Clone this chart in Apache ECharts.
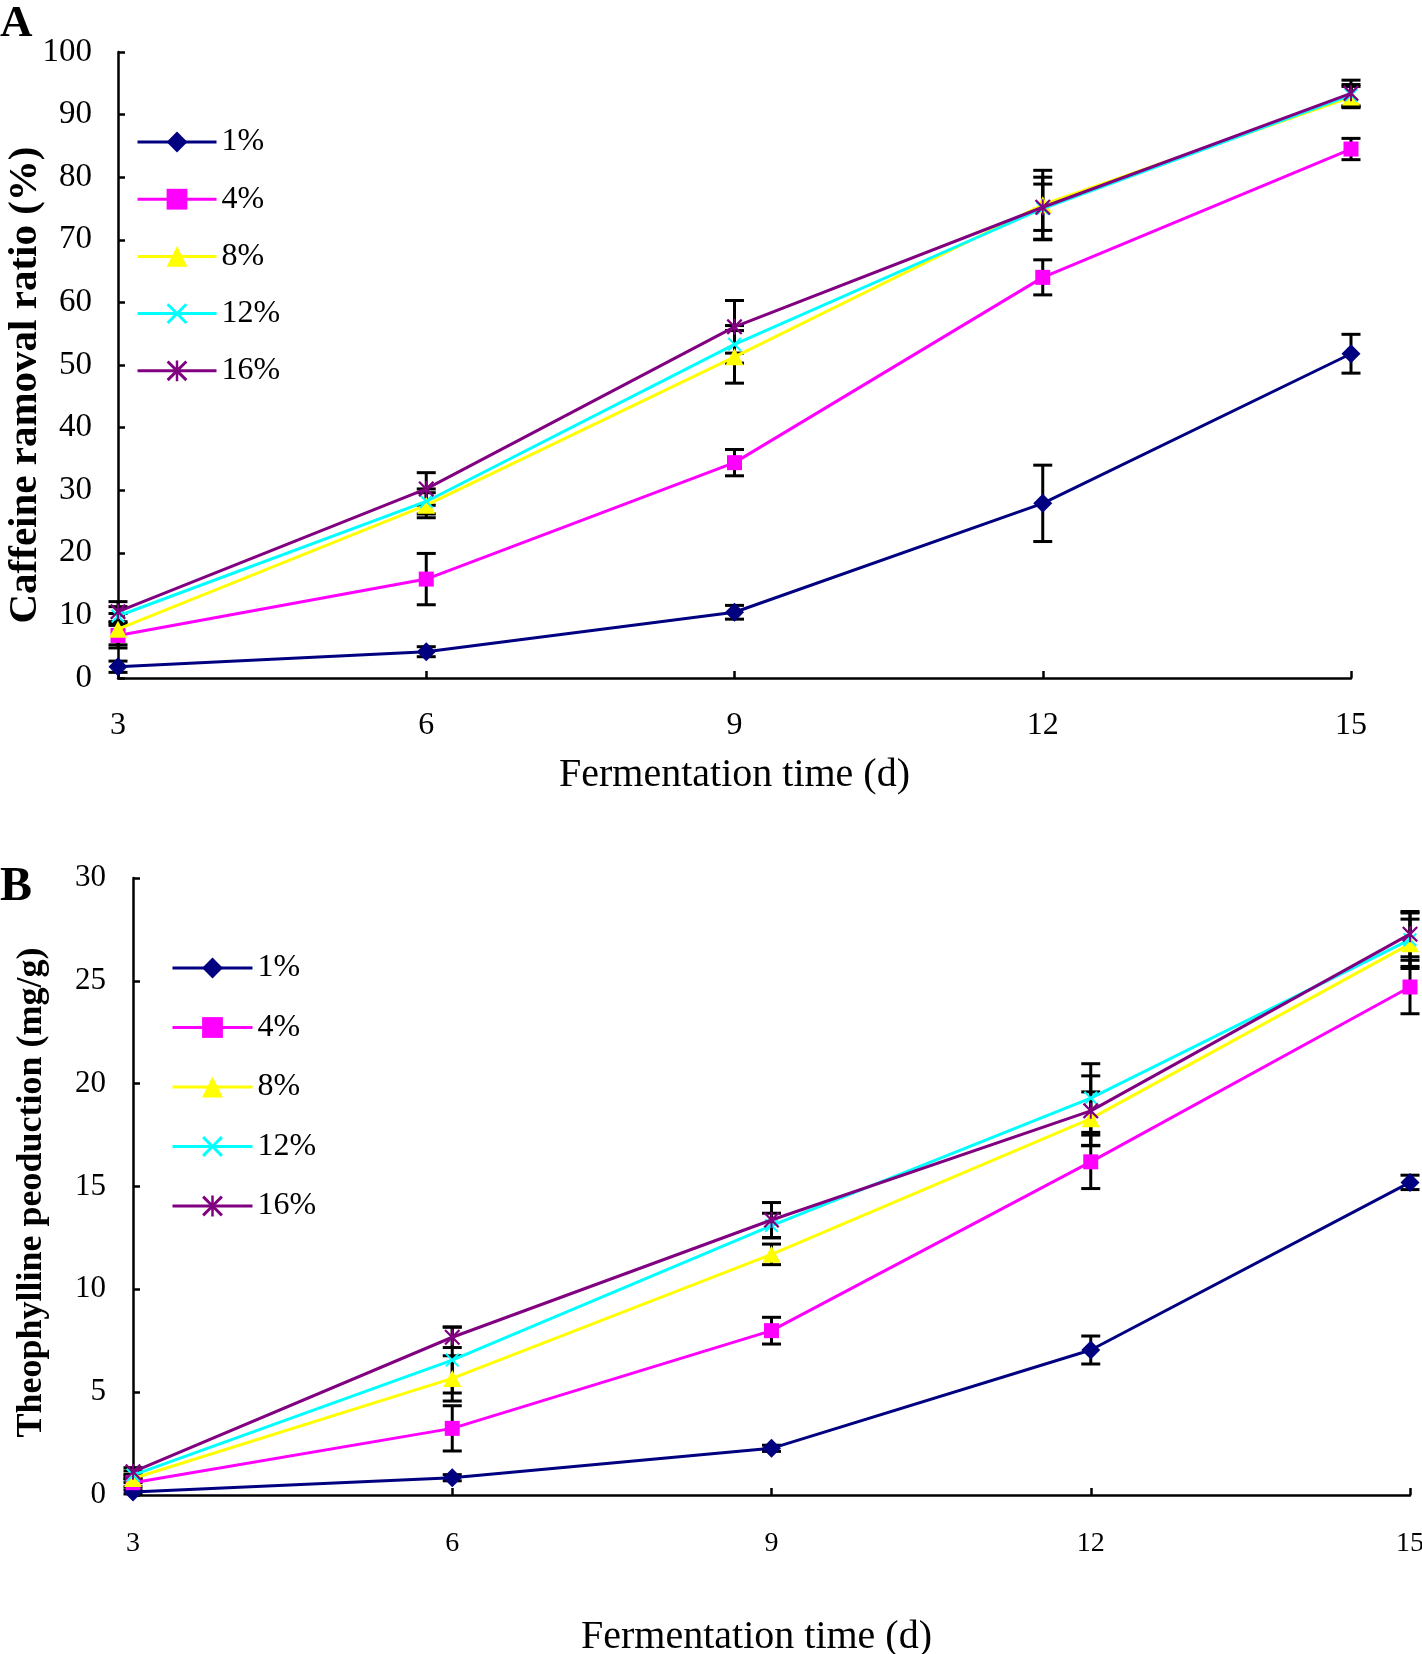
<!DOCTYPE html>
<html>
<head>
<meta charset="utf-8">
<script src="https://cdn.jsdelivr.net/npm/echarts@6/dist/echarts.min.js"></script>
<style>
html,body{margin:0;padding:0;background:#fff;}
#chart{width:1422px;height:1654px;}
</style>
</head>
<body>
<div id="chart"></div>
<script>
// ---- Data ----
const days = [3, 6, 9, 12, 15];
const seriesNames = ['1%', '4%', '8%', '12%', '16%'];
const xTicks = [3, 6, 9, 12, 15];

// Panel A: Caffeine ramoval ratio (%)
const caffeine1  = [1.8, 4.2, 10.5, 27.9, 51.8];
const caffeine4  = [6.8, 15.8, 34.4, 64.0, 84.5];
const caffeine8  = [7.8, 27.6, 51.3, 75.6, 92.8];
const caffeine12 = [9.9, 28.2, 53.3, 75.0, 93.1];
const caffeine16 = [10.6, 30.2, 56.1, 75.2, 93.4];
const caffeineErr1  = [0.9, 0.8, 1.1, 6.1, 3.1];
const caffeineErr4  = [2.0, 4.1, 2.1, 2.8, 1.7];
const caffeineErr8  = [2.5, 2.0, 4.2, 5.5, 1.7];
const caffeineErr12 = [1.5, 2.0, 3.0, 5.0, 1.7];
const caffeineErr16 = [1.6, 2.6, 4.2, 3.7, 2.1];

// Panel B: Theophylline peoduction (mg/g)
const theo1  = [0.15, 0.84, 2.27, 7.05, 15.2];
const theo4  = [0.6, 3.24, 7.99, 16.2, 24.7];
const theo8  = [0.8, 5.67, 11.7, 18.3, 26.8];
const theo12 = [0.97, 6.56, 13.1, 19.3, 27.0];
const theo16 = [1.13, 7.67, 13.37, 18.68, 27.27];
const theoErr1  = [0.1, 0.15, 0.15, 0.68, 0.35];
const theoErr4  = [0.2, 1.1, 0.65, 1.3, 1.3];
const theoErr8  = [0.2, 1.1, 0.5, 1.3, 1.2];
const theoErr12 = [0.2, 1.6, 0.6, 1.67, 1.3];
const theoErr16 = [0.2, 0.5, 0.85, 1.7, 1.1];

// ---- Styles ----
const FONT = 'Liberation Serif';
const colors = ['#000080', '#FF00FF', '#FFFF00', '#00FFFF', '#800080'];
const crossPath = 'path://M0,2 L2,0 L10,8 L18,0 L20,2 L12,10 L20,18 L18,20 L10,12 L2,20 L0,18 L8,10 Z';
const starPath = 'path://M0,2 L2,0 L10,8 L18,0 L20,2 L12,10 L20,18 L18,20 L10,12 L2,20 L0,18 L8,10 Z M8.8,0 L11.2,0 L11.2,20 L8.8,20 Z';
const symbols = ['diamond', 'rect', 'triangle', crossPath, starPath];
const symbolSizes = [[19, 19], [15, 15], [18, 17], [14, 14], [16, 16]];

const panelA = [caffeine1, caffeine4, caffeine8, caffeine12, caffeine16];
const panelAErr = [caffeineErr1, caffeineErr4, caffeineErr8, caffeineErr12, caffeineErr16];
const panelB = [theo1, theo4, theo8, theo12, theo16];
const panelBErr = [theoErr1, theoErr4, theoErr8, theoErr12, theoErr16];

function renderErr(params, api) {
  const x = api.value(0), lo = api.value(1), hi = api.value(2);
  const pLo = api.coord([x, lo]);
  const pHi = api.coord([x, hi]);
  const hw = 9.5;
  const st = { stroke: '#000', lineWidth: 3 };
  return {
    type: 'group',
    children: [
      { type: 'line', shape: { x1: pLo[0], y1: pLo[1], x2: pHi[0], y2: pHi[1] }, style: st },
      { type: 'line', shape: { x1: pLo[0] - hw, y1: pLo[1], x2: pLo[0] + hw, y2: pLo[1] }, style: st },
      { type: 'line', shape: { x1: pHi[0] - hw, y1: pHi[1], x2: pHi[0] + hw, y2: pHi[1] }, style: st }
    ]
  };
}

const series = [];
function addPanel(vals, errs, idx) {
  vals.forEach((arr, k) => {
    series.push({
      type: 'custom',
      name: 'err' + idx + '_' + k,
      xAxisIndex: idx, yAxisIndex: idx,
      renderItem: renderErr,
      encode: { x: 0, y: [1, 2] },
      data: days.map((d, i) => [d, arr[i] - errs[k][i], arr[i] + errs[k][i]]),
      z: 1,
      silent: true
    });
  });
  vals.forEach((arr, k) => {
    series.push({
      type: 'line',
      name: seriesNames[k],
      xAxisIndex: idx, yAxisIndex: idx,
      data: days.map((d, i) => [d, arr[i]]),
      symbol: symbols[k],
      symbolSize: symbolSizes[k],
      showAllSymbol: true,
      lineStyle: { color: colors[k], width: 3 },
      itemStyle: { color: colors[k], borderWidth: 0 },
      z: 2 + k
    });
  });
}
addPanel(panelA, panelAErr, 0);
addPanel(panelB, panelBErr, 1);

const axisLine = { show: true, lineStyle: { color: '#000', width: 2.5 } };
const axisTick = { show: true, inside: true, length: 7, lineStyle: { color: '#000', width: 2.5 } };

function xAxisCfg(idx, fontSize, margin, nameGap, namePad) {
  return {
    type: 'value', gridIndex: idx, min: 3, max: 15, interval: 3,
    axisLine: axisLine, axisTick: axisTick, splitLine: { show: false },
    axisLabel: { fontFamily: FONT, fontSize: fontSize, color: '#000', margin: margin,
      formatter: v => xTicks.indexOf(v) >= 0 ? String(v) : '' },
    name: 'Fermentation time (d)', nameLocation: 'middle', nameGap: nameGap,
    nameMoveOverlap: false,
    nameTextStyle: { fontFamily: FONT, fontSize: 40, color: '#000', padding: namePad }
  };
}
function yAxisCfg(idx, max, interval, fontSize, margin, name, nameSize, nameGap, namePad) {
  return {
    type: 'value', gridIndex: idx, min: 0, max: max, interval: interval,
    axisLine: axisLine, axisTick: axisTick, splitLine: { show: false },
    axisLabel: { fontFamily: FONT, fontSize: fontSize, color: '#000', margin: margin },
    name: name, nameLocation: 'middle', nameRotate: 90, nameGap: nameGap,
    nameMoveOverlap: false,
    nameTextStyle: { fontFamily: FONT, fontSize: nameSize, fontWeight: 'bold', color: '#000', padding: namePad }
  };
}

const legendCommon = {
  orient: 'vertical',
  data: seriesNames,
  itemHeight: 26,
  selectedMode: false,
  lineStyle: { width: 3 },
  textStyle: { fontFamily: FONT, fontSize: 32, color: '#000', lineHeight: 22 }
};

const option = {
  animation: false,
  backgroundColor: '#fff',
  grid: [
    { left: 118, top: 52, width: 1233, height: 626, containLabel: false, outerBoundsMode: 'none' },
    { left: 133, top: 878, width: 1277, height: 617, containLabel: false, outerBoundsMode: 'none' }
  ],
  xAxis: [
    xAxisCfg(0, 32, 32, 77, [0, 0, 0, 0]),
    xAxisCfg(1, 28, 35, 122, [0, 30, 0, 0])
  ],
  yAxis: [
    yAxisCfg(0, 100, 10, 33, 26, 'Caffeine ramoval ratio (%)', 41, 72, [0, 40, 0, 0]),
    yAxisCfg(1, 30, 5, 31, 27, 'Theophylline peoduction (mg/g)', 36, 83, [0, 12, 0, 0])
  ],
  legend: [
    Object.assign({}, legendCommon, { left: 131, top: 121, itemWidth: 79, itemGap: 25.2 }),
    Object.assign({}, legendCommon, { left: 166, top: 947, itemWidth: 80, itemGap: 27.5 })
  ],
  graphic: [
    { type: 'text', left: 0, top: 2, style: { text: 'A', font: 'bold 45px "Liberation Serif"', fill: '#000' } },
    { type: 'text', left: 0, top: 864, style: { text: 'B', font: 'bold 48px "Liberation Serif"', fill: '#000' } }
  ],
  series: series
};

const chart = echarts.init(document.getElementById('chart'), null, { renderer: 'canvas' });
chart.setOption(option);
</script>
</body>
</html>
